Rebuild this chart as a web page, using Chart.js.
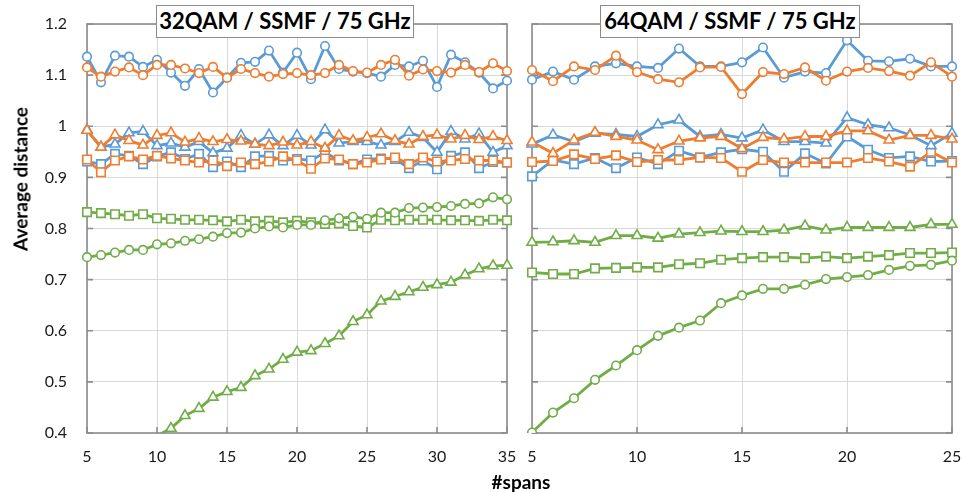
<!DOCTYPE html>
<html>
<head>
<meta charset="utf-8">
<script src="https://cdn.jsdelivr.net/npm/chart.js@4.4.0/dist/chart.umd.min.js"></script>
<style>
  body { margin: 0; background: #fff; width: 964px; height: 492px; position: relative; overflow: hidden; font-family: Lato, sans-serif; }
  canvas { position: absolute; top: 0; }
  #left { left: 0; }
  #right { left: 520px; }
  .panel-title { position: absolute; top: 5px; height: 33px; border: 1.5px solid #8c8c8c; background: #fff; font-weight: bold; font-size: 22px; line-height: 30px; text-align: center; box-sizing: border-box; color: #000; }
  .axis-title { position: absolute; font-weight: bold; font-size: 19px; color: #000; white-space: nowrap; transform: translate(-50%, -50%); }
</style>
</head>
<body>
<canvas id="left" width="520" height="492"></canvas>
<canvas id="right" width="444" height="492"></canvas>
<div class="panel-title" style="left:156px;width:258px;">32QAM / SSMF / 75 GHz</div>
<div class="panel-title" style="left:600px;width:260px;">64QAM / SSMF / 75 GHz</div>
<div class="axis-title" style="left:20px;top:179px;transform:translate(-50%,-50%) rotate(-90deg);">Average distance</div>
<div class="axis-title" style="left:521px;top:481px;">#spans</div>
<script>
// x values
const spans32 = [5, 6, 7, 8, 9, 10, 11, 12, 13, 14, 15, 16, 17, 18, 19, 20, 21, 22, 23, 24, 25, 26, 27, 28, 29, 30, 31, 32, 33, 34, 35];
const spans64 = [5, 6, 7, 8, 9, 10, 11, 12, 13, 14, 15, 16, 17, 18, 19, 20, 21, 22, 23, 24, 25];

// 32QAM panel
const blueCircle32 = [1.136, 1.086, 1.138, 1.136, 1.116, 1.130, 1.105, 1.079, 1.112, 1.066, 1.095, 1.124, 1.126, 1.148, 1.105, 1.144, 1.092, 1.157, 1.112, 1.107, 1.104, 1.097, 1.120, 1.117, 1.128, 1.077, 1.140, 1.125, 1.105, 1.074, 1.089];
const orangeCircle32 = [1.115, 1.097, 1.107, 1.115, 1.100, 1.120, 1.120, 1.113, 1.104, 1.116, 1.095, 1.112, 1.104, 1.097, 1.102, 1.104, 1.100, 1.104, 1.120, 1.108, 1.105, 1.120, 1.130, 1.099, 1.111, 1.108, 1.105, 1.120, 1.106, 1.123, 1.108];
const blueTriangle32 = [0.993, 0.959, 0.965, 0.987, 0.990, 0.962, 0.967, 0.959, 0.970, 0.948, 0.957, 0.982, 0.965, 0.983, 0.962, 0.982, 0.963, 0.993, 0.967, 0.970, 0.970, 0.963, 0.970, 0.988, 0.978, 0.949, 0.990, 0.975, 0.985, 0.949, 0.962];
const orangeTriangle32 = [0.992, 0.959, 0.983, 0.972, 0.963, 0.982, 0.987, 0.969, 0.976, 0.970, 0.974, 0.971, 0.965, 0.962, 0.969, 0.963, 0.970, 0.957, 0.982, 0.972, 0.978, 0.985, 0.972, 0.965, 0.980, 0.983, 0.975, 0.982, 0.974, 0.980, 0.972];
const blueSquare32 = [0.931, 0.926, 0.946, 0.942, 0.926, 0.941, 0.949, 0.936, 0.946, 0.920, 0.931, 0.920, 0.941, 0.942, 0.933, 0.936, 0.933, 0.949, 0.933, 0.926, 0.935, 0.937, 0.936, 0.918, 0.933, 0.916, 0.942, 0.949, 0.918, 0.930, 0.929];
const orangeSquare32 = [0.935, 0.910, 0.933, 0.941, 0.935, 0.942, 0.937, 0.933, 0.929, 0.933, 0.922, 0.929, 0.926, 0.931, 0.941, 0.933, 0.917, 0.937, 0.935, 0.926, 0.929, 0.935, 0.939, 0.926, 0.939, 0.931, 0.933, 0.936, 0.933, 0.933, 0.929];
const greenSquare32 = [0.832, 0.830, 0.828, 0.825, 0.828, 0.820, 0.819, 0.817, 0.817, 0.816, 0.814, 0.817, 0.814, 0.815, 0.812, 0.815, 0.812, 0.809, 0.810, 0.805, 0.802, 0.817, 0.816, 0.817, 0.817, 0.817, 0.816, 0.816, 0.815, 0.817, 0.816];
const greenCircle32 = [0.744, 0.748, 0.753, 0.758, 0.758, 0.769, 0.771, 0.776, 0.779, 0.784, 0.791, 0.792, 0.800, 0.804, 0.802, 0.807, 0.807, 0.816, 0.820, 0.823, 0.819, 0.831, 0.831, 0.840, 0.841, 0.842, 0.844, 0.848, 0.849, 0.861, 0.857];
const greenTriangle32 = [null, null, null, null, null, 0.395, 0.409, 0.434, 0.448, 0.470, 0.481, 0.489, 0.512, 0.525, 0.544, 0.558, 0.561, 0.575, 0.590, 0.618, 0.631, 0.658, 0.667, 0.676, 0.685, 0.690, 0.695, 0.709, 0.721, 0.727, 0.728];

// 64QAM panel
const blueCircle64 = [1.091, 1.107, 1.091, 1.117, 1.123, 1.117, 1.114, 1.152, 1.117, 1.117, 1.125, 1.154, 1.095, 1.107, 1.104, 1.168, 1.128, 1.127, 1.132, 1.117, 1.117];
const orangeCircle64 = [1.110, 1.088, 1.117, 1.110, 1.138, 1.106, 1.092, 1.086, 1.115, 1.116, 1.063, 1.106, 1.102, 1.115, 1.089, 1.107, 1.114, 1.108, 1.099, 1.125, 1.097];
const blueTriangle64 = [0.965, 0.983, 0.970, 0.986, 0.984, 0.980, 1.003, 1.012, 0.980, 0.984, 0.977, 0.993, 0.970, 0.970, 0.967, 1.017, 1.003, 0.997, 0.983, 0.962, 0.986];
const orangeTriangle64 = [0.969, 0.947, 0.973, 0.988, 0.980, 0.973, 0.954, 0.971, 0.977, 0.980, 0.956, 0.978, 0.975, 0.980, 0.980, 0.991, 0.991, 0.973, 0.982, 0.982, 0.975];
const blueSquare64 = [0.902, 0.934, 0.926, 0.938, 0.918, 0.939, 0.926, 0.952, 0.939, 0.949, 0.955, 0.950, 0.911, 0.947, 0.927, 0.980, 0.954, 0.938, 0.941, 0.931, 0.932];
const orangeSquare64 = [0.930, 0.932, 0.945, 0.936, 0.943, 0.930, 0.934, 0.934, 0.939, 0.938, 0.911, 0.934, 0.929, 0.929, 0.929, 0.929, 0.938, 0.931, 0.921, 0.950, 0.929];
const greenTriangle64 = [0.773, 0.774, 0.776, 0.773, 0.786, 0.786, 0.781, 0.789, 0.792, 0.795, 0.794, 0.794, 0.797, 0.805, 0.797, 0.802, 0.802, 0.802, 0.802, 0.808, 0.808];
const greenSquare64 = [0.714, 0.711, 0.711, 0.722, 0.723, 0.724, 0.724, 0.730, 0.732, 0.739, 0.742, 0.744, 0.744, 0.742, 0.745, 0.742, 0.745, 0.748, 0.752, 0.752, 0.753];
const greenCircle64 = [0.401, 0.440, 0.468, 0.504, 0.532, 0.562, 0.590, 0.606, 0.620, 0.654, 0.669, 0.682, 0.682, 0.690, 0.701, 0.705, 0.709, 0.719, 0.727, 0.729, 0.737];

const yTicks = [0.4, 0.5, 0.6, 0.7, 0.8, 0.9, 1.0, 1.1, 1.2];

const BLUE = '#5b9bd5', ORANGE = '#ed7d31', GREEN = '#70ad47';
const RADIUS = { circle: 4.3, triangle: 5.8, rect: 6 };

function line(xs, ys, color, shape) {
  return {
    data: xs.map((x, i) => ({ x: x, y: ys[i] })),
    borderColor: color,
    backgroundColor: '#fff',
    borderWidth: 2.8,
    pointStyle: shape,
    pointRadius: ctx => (ctx.raw && ctx.raw.y < 0.4 ? 0 : RADIUS[shape]),
    pointBorderWidth: 1.6,
    pointBackgroundColor: '#fff',
    pointBorderColor: color,
    tension: 0,
    spanGaps: false,
    clip: { left: false, right: false, top: false, bottom: 0 }
  };
}

// grey frame with short inward ticks
const frame = {
  id: 'frame',
  beforeDatasetsDraw(chart) {
    const { ctx, chartArea: a, scales } = chart;
    ctx.save();
    ctx.strokeStyle = '#8c8c8c';
    ctx.lineWidth = 1.6;
    ctx.strokeRect(a.left, a.top, a.right - a.left, a.bottom - a.top);
    ctx.beginPath();
    yTicks.forEach(v => {
      const y = scales.y.getPixelForValue(v);
      ctx.moveTo(a.left, y); ctx.lineTo(a.left + 6, y);
      ctx.moveTo(a.right, y); ctx.lineTo(a.right - 6, y);
    });
    scales.x.ticks.forEach(t => {
      const x = scales.x.getPixelForValue(t.value);
      ctx.moveTo(x, a.bottom); ctx.lineTo(x, a.bottom - 6);
    });
    ctx.stroke();
    ctx.restore();
  }
};

// fixed axis boxes so both plot areas line up
function fitX(s) {
  s.height = 59;
  s.paddingLeft = 0;
  s.paddingRight = 0;
}

function options(xMax, showY) {
  const tickFont = { family: 'Lato', size: 16 };
  return {
    responsive: false,
    animation: false,
    devicePixelRatio: 1,
    layout: { padding: { left: 0, top: 24, right: showY ? 13 : 12, bottom: 0 } },
    plugins: { legend: { display: false }, tooltip: { enabled: false } },
    scales: {
      x: {
        type: 'linear', min: 5, max: xMax,
        ticks: { stepSize: 5, padding: 14, color: '#1a1a1a', font: tickFont },
        grid: { color: '#d9d9d9', lineWidth: 1, drawTicks: false },
        border: { display: false },
        afterFit: fitX
      },
      y: {
        min: 0.4, max: 1.2,
        afterBuildTicks(s) { s.ticks = yTicks.map(v => ({ value: v })); },
        ticks: { display: showY, padding: 20, color: '#1a1a1a', font: tickFont, callback: v => String(+v.toFixed(1)) },
        grid: { color: '#d9d9d9', lineWidth: 1, drawTicks: false },
        border: { display: false },
        afterFit(s) {
          s.width = showY ? 87 : 12;
          s.paddingTop = 0;
          s.paddingBottom = 0;
        }
      }
    }
  };
}

new Chart(document.getElementById('left'), {
  type: 'line',
  data: {
    datasets: [
      line(spans32, orangeCircle32, ORANGE, 'circle'),
      line(spans32, blueCircle32, BLUE, 'circle'),
      line(spans32, orangeTriangle32, ORANGE, 'triangle'),
      line(spans32, blueTriangle32, BLUE, 'triangle'),
      line(spans32, orangeSquare32, ORANGE, 'rect'),
      line(spans32, blueSquare32, BLUE, 'rect'),
      line(spans32, greenCircle32, GREEN, 'circle'),
      line(spans32, greenSquare32, GREEN, 'rect'),
      line(spans32, greenTriangle32, GREEN, 'triangle')
    ]
  },
  options: options(35, true),
  plugins: [frame]
});

new Chart(document.getElementById('right'), {
  type: 'line',
  data: {
    datasets: [
      line(spans64, orangeCircle64, ORANGE, 'circle'),
      line(spans64, blueCircle64, BLUE, 'circle'),
      line(spans64, orangeTriangle64, ORANGE, 'triangle'),
      line(spans64, blueTriangle64, BLUE, 'triangle'),
      line(spans64, orangeSquare64, ORANGE, 'rect'),
      line(spans64, blueSquare64, BLUE, 'rect'),
      line(spans64, greenCircle64, GREEN, 'circle'),
      line(spans64, greenSquare64, GREEN, 'rect'),
      line(spans64, greenTriangle64, GREEN, 'triangle')
    ]
  },
  options: options(25, false),
  plugins: [frame]
});
</script>
</body>
</html>
